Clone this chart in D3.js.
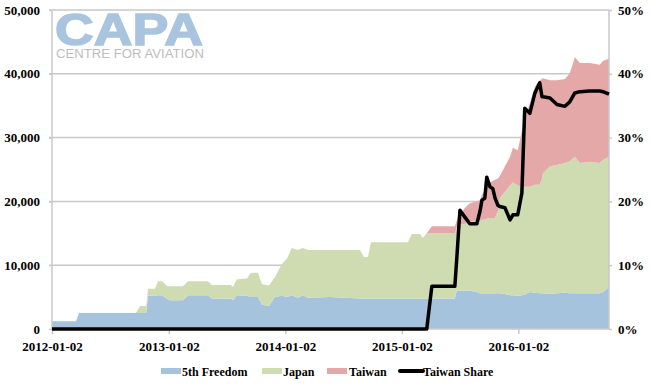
<!DOCTYPE html>
<html>
<head>
<meta charset="utf-8">
<script src="https://cdn.jsdelivr.net/npm/d3@7"></script>
<style>
  html, body { margin: 0; padding: 0; background: #fff; }
  svg { display: block; }
  text { font-family: "Liberation Serif", "DejaVu Serif", serif; font-weight: bold; fill: #000; }
</style>
</head>
<body>
<svg id="chart" width="650" height="388"></svg>
<script>
// ---------- DATA ----------
const dates = [
  "2012-01-02","2012-03-17","2012-03-27","2012-09-21","2012-10-04","2012-10-23","2012-10-29","2012-11-20",
  "2012-11-29","2012-12-12","2012-12-28","2013-01-05","2013-02-15","2013-03-03","2013-05-04","2013-05-17",
  "2013-07-15","2013-07-22","2013-08-03","2013-09-04","2013-09-16","2013-10-08","2013-10-21","2013-11-12",
  "2013-11-30","2013-12-22","2014-01-07","2014-01-22","2014-02-10","2014-02-26","2014-03-14","2014-05-22",
  "2014-08-24","2014-09-05","2014-09-18","2014-09-27","2015-01-21","2015-02-02","2015-02-27","2015-03-09",
  "2015-03-21","2015-04-06","2015-06-17","2015-06-23","2015-07-03","2015-07-19","2015-08-03","2015-08-25",
  "2015-09-04","2015-09-10","2015-09-19","2015-09-25","2015-10-05","2015-10-14","2015-10-21","2015-10-30",
  "2015-11-05","2015-11-21","2015-12-07","2015-12-16","2015-12-31","2016-01-13","2016-01-22","2016-02-07",
  "2016-02-23","2016-03-09","2016-03-16","2016-03-19","2016-04-10","2016-05-02","2016-05-27","2016-06-11",
  "2016-06-27","2016-07-13","2016-08-13","2016-09-13","2016-09-23","2016-10-12"
];
const fifthFreedom = [
  1200,1200,2500,2500,2500,2500,5200,5200,
  5300,5300,4700,4500,4500,5300,5300,4800,
  4800,4500,5300,5200,5000,5000,3800,3600,
  5000,5200,5000,5300,4900,5300,4900,5000,
  4800,4800,4800,4800,4800,4800,4800,4800,
  4800,4800,4800,6000,6000,6000,6000,5800,
  5600,5500,5500,5500,5500,5500,5600,5600,
  5600,5500,5300,5300,5200,5300,5400,5800,
  5700,5600,5600,5600,5500,5600,5700,5600,
  5600,5600,5600,5600,5800,6600
];
const japan = [
  0,0,0,0,1100,1100,1100,1100,
  2200,2200,2000,2200,2200,2200,2200,2100,
  2100,2100,2500,2700,3800,3800,3200,3200,
  3100,5000,6000,7400,7500,7400,7500,7400,
  7600,6500,6500,8800,8800,10100,10100,9500,
  10200,10200,10200,10000,10300,10500,10800,11200,
  11500,11600,11700,11800,11900,11900,11800,12900,
  14900,16000,17200,17700,17300,17000,16900,16500,
  16900,17000,17900,18800,20000,20100,20300,20700,
  21400,20400,20600,20400,20700,20400
];
const taiwan = [
  0,0,0,0,0,0,0,0,
  0,0,0,0,0,0,0,0,
  0,0,0,0,0,0,0,0,
  0,0,0,0,0,0,0,0,
  0,0,0,0,0,0,0,0,
  0,1100,1100,1000,1700,2500,2900,3000,
  3100,3900,4600,5200,5600,5800,6000,5100,
  3500,4000,4500,5400,5500,8700,10700,13100,
  15400,16400,15700,14900,13500,13300,13200,13800,
  15600,15700,15500,15400,15500,15400
];
const taiwanShare = [
  0,0,0,0,0,0,0,0,
  0,0,0,0,0,0,0,0,
  0,0,0,0,0,0,0,0,
  0,0,0,0,0,0,0,0,
  0,0,0,0,0,0,0,0,
  0,6.7,6.7,11,18.6,17.5,16.5,16.5,
  18.5,20.2,20.5,23.8,22.3,22.0,20.5,19.4,
  19.2,19.0,17.1,17.9,17.9,21.3,34.6,33.8,
  37.0,38.6,36.4,36.4,36.2,35.2,34.9,35.6,
  37.0,37.2,37.3,37.3,37.2,36.8
];
const seriesNames = ["5th Freedom","Japan","Taiwan"];
const seriesColors = ["#a6c3de","#cfdcb2","#e5a8a9"];
const lineName = "Taiwan Share";
const leftTicks = [0,10000,20000,30000,40000,50000];
const rightTicks = [0,0.1,0.2,0.3,0.4,0.5];
const xTickLabels = ["2012-01-02","2013-01-02","2014-01-02","2015-01-02","2016-01-02"];

// ---------- BUILD ----------
const parse = d3.timeParse("%Y-%m-%d");
const rows = dates.map((d,i)=>({
  date: parse(d),
  "5th Freedom": fifthFreedom[i],
  "Japan": japan[i],
  "Taiwan": taiwan[i],
  share: taiwanShare[i]/100
}));

const svg = d3.select("#chart");
const m = {left:52, right:609, top:10, bottom:329};
const x = d3.scaleTime().domain(d3.extent(rows, d=>d.date)).range([m.left, m.right]);
const y = d3.scaleLinear().domain([0,50000]).range([m.bottom, m.top]);
const y2 = d3.scaleLinear().domain([0,0.5]).range([m.bottom, m.top]);

const grid = "#c8c8c8";

// gridlines
svg.append("g").selectAll("line").data(leftTicks.filter(t=>t>0)).join("line")
  .attr("x1", m.left-3).attr("x2", m.right)
  .attr("y1", d=>y(d)).attr("y2", d=>y(d))
  .attr("stroke", grid).attr("stroke-width", 1.5);

// stacked areas
const stack = d3.stack().keys(seriesNames);
const layers = stack(rows);
const area = d3.area()
  .x(d=>x(d.data.date))
  .y0(d=>y(d[0]))
  .y1(d=>y(d[1]));
svg.append("g").selectAll("path").data(layers).join("path")
  .attr("d", area)
  .attr("fill", (d,i)=>seriesColors[i]);

// logo
const logo = svg.append("g");
logo.append("text").attr("x", 55).attr("y", 45)
  .attr("textLength", 148).attr("lengthAdjust", "spacingAndGlyphs")
  .style("font-family", "'Liberation Sans', Arial, sans-serif")
  .style("font-weight", "900").style("font-size", "45px")
  .style("fill", "#a9c4df").style("stroke", "#a9c4df").style("stroke-width", "1.5")
  .text("CAPA");
logo.append("text").attr("x", 56).attr("y", 58)
  .attr("textLength", 148).attr("lengthAdjust", "spacingAndGlyphs")
  .style("font-family", "'Liberation Sans', Arial, sans-serif")
  .style("font-weight", "normal").style("font-size", "12.5px")
  .style("fill", "#bdbdbd")
  .text("CENTRE FOR AVIATION");

// axes
const leftAxis = d3.axisLeft(y).tickValues(leftTicks).tickFormat(d3.format(",")).tickSize(3).tickPadding(9);
const rightAxis = d3.axisRight(y2).tickValues(rightTicks).tickFormat(d3.format(".0%")).tickSize(3).tickPadding(6);
const bottomAxis = d3.axisBottom(x).tickValues(xTickLabels.map(parse)).tickFormat(d3.timeFormat("%Y-%m-%d")).tickSize(5).tickPadding(8);

function styleAxis(g){
  g.select(".domain").attr("stroke", grid).attr("stroke-width", 1.5);
  g.selectAll(".tick line").attr("stroke", grid).attr("stroke-width", 1.5);
  g.selectAll(".tick text").style("font-family","'Liberation Serif', serif").style("font-weight","bold").style("font-size","13px").attr("fill","#000");
}
svg.append("g").attr("transform", `translate(${m.left},0)`).call(leftAxis).call(g=>{
  styleAxis(g); g.select(".domain").attr("d", `M0,${m.top}V${m.bottom}`);
});
svg.append("g").attr("transform", `translate(${m.right},0)`).call(rightAxis).call(g=>{
  styleAxis(g); g.select(".domain").attr("d", `M0,${m.top}V${m.bottom}`);
});
svg.append("g").attr("transform", `translate(0,${m.bottom})`).call(bottomAxis).call(g=>{
  styleAxis(g); g.select(".domain").attr("d", `M${m.left},0H${m.right}`);
});

// share line
const line = d3.line().x(d=>x(d.date)).y(d=>y2(d.share));
svg.append("path").datum(rows).attr("d", line)
  .attr("fill","none").attr("stroke","#000").attr("stroke-width",3.5)
  .attr("stroke-linejoin","round");

// legend
const legendItems = [
  {name: seriesNames[0], color: seriesColors[0], type:"rect", sx:161, tx:182},
  {name: seriesNames[1], color: seriesColors[1], type:"rect", sx:262, tx:283},
  {name: seriesNames[2], color: seriesColors[2], type:"rect", sx:327, tx:349},
  {name: lineName, color: "#000", type:"line", sx:400, tx:423}
];
const lg = svg.append("g");
legendItems.forEach(it=>{
  if (it.type === "rect") {
    lg.append("rect").attr("x", it.sx).attr("y", 368).attr("width", 20).attr("height", 6).attr("fill", it.color);
  } else {
    lg.append("line").attr("x1", it.sx).attr("x2", it.sx+23).attr("y1", 371).attr("y2", 371)
      .attr("stroke", it.color).attr("stroke-width", 4).attr("stroke-linecap","round");
  }
  lg.append("text").attr("x", it.tx).attr("y", 376).style("font-size","12px").text(it.name);
});
</script>
</body>
</html>
